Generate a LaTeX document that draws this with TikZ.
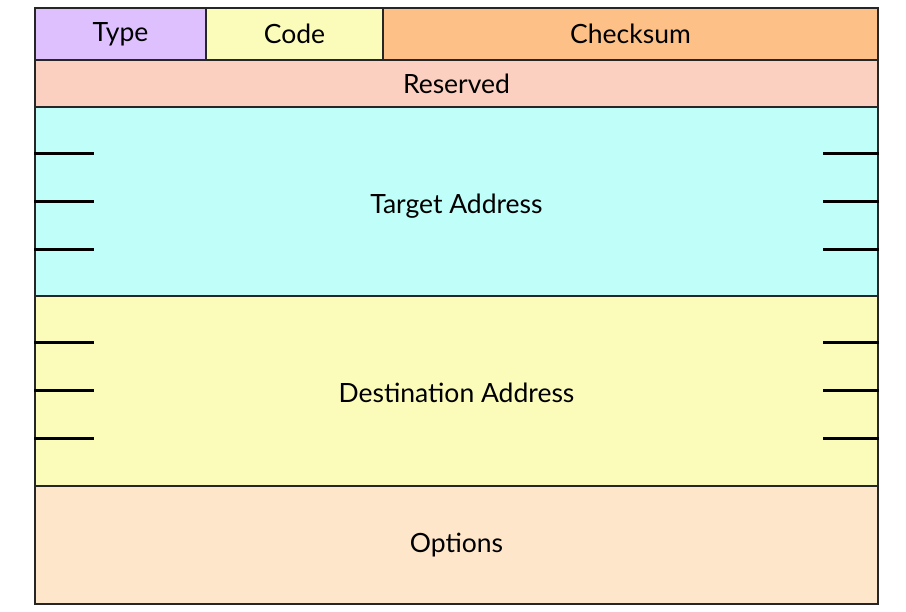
\documentclass[tikz,border=0pt]{standalone}
\usepackage{fontspec}
\setmainfont{Lato}
\usetikzlibrary{calc}
\definecolor{typec}{HTML}{DFC0FE}
\definecolor{codec}{HTML}{FCFCBA}
\definecolor{sumc}{HTML}{FDC086}
\definecolor{resc}{HTML}{FCD0C0}
\definecolor{tgtc}{HTML}{C0FEF9}
\definecolor{dstc}{HTML}{FCFCBA}
\definecolor{optc}{HTML}{FEE6CA}
\tikzset{
  field/.style = {rectangle, draw=black!85, line width=2pt, inner sep=0pt,
    anchor=north west, font=\fontsize{26.5}{30}\selectfont},
  addr/.style = {field, minimum width=843pt, text height=30pt, text depth=6pt},% wide address field
  tick/.style = {line width=3pt, black}% short marks on wide fields
}
\begin{document}
\begin{tikzpicture}[x=1pt,y=-1pt]
\useasboundingbox (0,0) rectangle (906,612);
% header row
\node [field, fill=typec, minimum width=171pt, minimum height=52pt] (type) at (34,7) {Type};
\node [field, fill=codec, minimum width=177pt, minimum height=52pt] (code) at (205,7) {Code};
\node [field, fill=sumc, minimum width=495pt, minimum height=52pt] (sum) at (382,7) {Checksum};
\node [field, fill=resc, minimum width=843pt, minimum height=47pt] (res) at (34,59) {Reserved};
% addresses
\node [addr, fill=tgtc, minimum height=189pt] (tgt) at (34,106) {Target Address};
\node [addr, fill=dstc, minimum height=190pt] (dst) at (34,295) {Destination Address};
\node [field, fill=optc, minimum width=843pt, minimum height=118pt] (opt) at (34,485) {Options};
\foreach \n in {tgt,dst}
  \foreach \f in {0.25,0.5,0.75} {
    \draw [tick] ($(\n.north west)!\f!(\n.south west)$) -- ++(60,0);
    \draw [tick] ($(\n.north east)!\f!(\n.south east)$) -- ++(-56,0);
  }
\end{tikzpicture}
\end{document}
